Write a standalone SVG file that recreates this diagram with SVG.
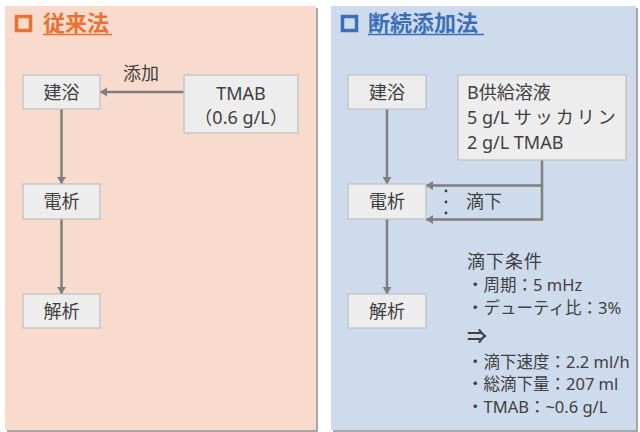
<svg xmlns="http://www.w3.org/2000/svg" width="640" height="432" viewBox="0 0 640 432">
<defs>
<style>
text{font-family:"Noto Sans","Noto Sans CJK JP",sans-serif;fill:#404040;}
.n{font-size:18px;text-anchor:middle;}
.t{font-size:18px;}
.s{font-size:16.5px;}
.box{fill:#EDEDED;stroke:#BFBFBF;stroke-width:1.2;}
.c{stroke:#7F7F7F;stroke-width:2.5;fill:none;}
.ttl{font-size:22px;font-weight:bold;}
</style>
<marker id="ah" markerUnits="userSpaceOnUse" markerWidth="8" markerHeight="10" refX="7" refY="4.5" orient="auto">
<path d="M0,0 L7,4.5 L0,9 z" fill="#7F7F7F"/>
</marker>
</defs>
<rect width="640" height="432" fill="#FFFFFF"/>
<g id="panel-left">
<rect x="7" y="8" width="311" height="424" fill="#A8A8A8"/>
<rect x="5" y="6" width="311" height="424" fill="#F8DBCD"/>
<rect x="16.5" y="16.5" width="14" height="14" fill="none" stroke="#E97132" stroke-width="3.5"/>
<text class="ttl" x="43" y="31" style="fill:#E97132">従来法</text>
<line x1="43" y1="34.5" x2="112" y2="34.5" stroke="#E97132" stroke-width="1.3"/>
</g>
<g id="panel-right">
<rect x="333" y="8" width="305" height="424" fill="#A8A8A8"/>
<rect x="331" y="6" width="305" height="424" fill="#CEDBED"/>
<rect x="342.5" y="16.5" width="14" height="14" fill="none" stroke="#3B6FB6" stroke-width="3.5"/>
<text class="ttl" x="368" y="31" style="fill:#3B6FB6">断続添加法</text>
<line x1="368" y1="34.5" x2="484" y2="34.5" stroke="#3B6FB6" stroke-width="1.3"/>
</g>
<g id="connectors">
<line class="c" x1="184" y1="92" x2="100" y2="92" marker-end="url(#ah)"/>
<line class="c" x1="61.5" y1="109" x2="61.5" y2="184" marker-end="url(#ah)"/>
<line class="c" x1="61.5" y1="219" x2="61.5" y2="294" marker-end="url(#ah)"/>
<line class="c" x1="387" y1="109" x2="387" y2="184" marker-end="url(#ah)"/>
<line class="c" x1="387" y1="219" x2="387" y2="294" marker-end="url(#ah)"/>
<polyline class="c" points="542,160 542,185.5 426,185.5" marker-end="url(#ah)"/>
<polyline class="c" points="542,185 542,219.5 426,219.5" marker-end="url(#ah)"/>
<text class="t" x="141" y="79.5" text-anchor="middle">添加</text>
<circle cx="446" cy="191" r="1.4" fill="#404040"/>
<circle cx="446" cy="202" r="1.4" fill="#404040"/>
<circle cx="446" cy="213" r="1.4" fill="#404040"/>
<text class="t" x="466" y="207.5">滴下</text>
</g>
<g id="node-left-kenyoku">
<rect class="box" x="23" y="75" width="77" height="34"/>
<text class="n" x="61.5" y="98.5">建浴</text>
</g>
<g id="node-left-tmab">
<rect class="box" x="184" y="75" width="114" height="58"/>
<text class="n" x="241" y="99.5">TMAB</text>
<text class="n" x="241" y="123.5">（0.6 g/L）</text>
</g>
<g id="node-left-densek">
<rect class="box" x="23" y="184" width="77" height="35"/>
<text class="n" x="61.5" y="207.5">電析</text>
</g>
<g id="node-left-kaiseki">
<rect class="box" x="23" y="294" width="77" height="34"/>
<text class="n" x="61.5" y="317.5">解析</text>
</g>
<g id="node-right-kenyoku">
<rect class="box" x="348" y="75" width="78" height="34"/>
<text class="n" x="387" y="98.5">建浴</text>
</g>
<g id="node-right-supply">
<rect class="box" x="458" y="75" width="168" height="85"/>
<text class="t" x="467" y="98.5">B供給溶液</text>
<text class="t" x="467" y="123.5">5 g/L <tspan letter-spacing="3">サッカリン</tspan></text>
<text class="t" x="467" y="148.5">2 g/L TMAB</text>
</g>
<g id="node-right-densek">
<rect class="box" x="348" y="184" width="78" height="35"/>
<text class="n" x="387" y="207.5">電析</text>
</g>
<g id="node-right-kaiseki">
<rect class="box" x="348" y="294" width="78" height="34"/>
<text class="n" x="387" y="317.5">解析</text>
</g>
<g id="conditions">
<text class="t" x="467" y="267.5" font-size="18.5" letter-spacing="1">滴下条件</text>
<text class="s" x="467" y="291">・周期：5 mHz</text>
<text class="s" x="467" y="314">・デューティ比：3%</text>
<text x="467" y="344" font-size="20" font-weight="bold">⇒</text>
<text class="s" x="467" y="368">・滴下速度：2.2 ml/h</text>
<text class="s" x="467" y="390">・総滴下量：207 ml</text>
<text class="s" x="467" y="413">・TMAB：~0.6 g/L</text>
</g>
</svg>
